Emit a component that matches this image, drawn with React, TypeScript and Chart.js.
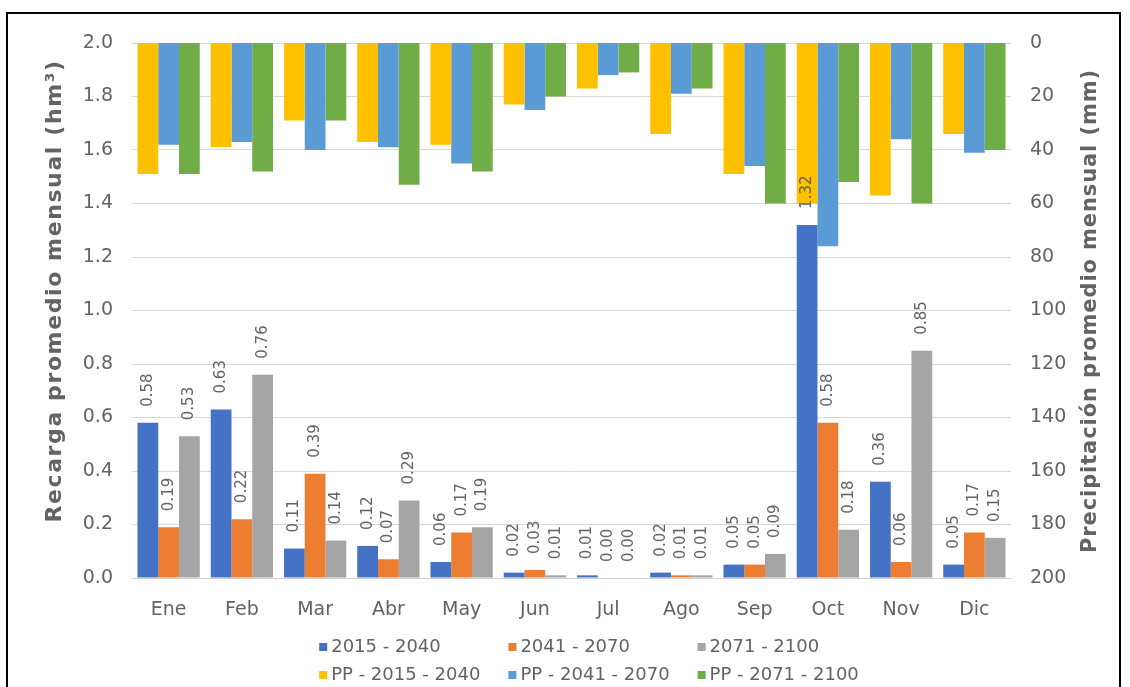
import React, { useEffect, useRef } from 'react';
import { Chart, registerables } from 'chart.js';

Chart.register(...registerables);

const W = 1130;
const H = 687;
const FONT = "'DejaVu Sans', 'Liberation Sans', sans-serif";
const TXT = '#636363';

const months = ['Ene', 'Feb', 'Mar', 'Abr', 'May', 'Jun', 'Jul', 'Ago', 'Sep', 'Oct', 'Nov', 'Dic'];

// Recarga promedio mensual (hm3)
const rec2015 = [0.58, 0.63, 0.11, 0.12, 0.06, 0.02, 0.01, 0.02, 0.05, 1.32, 0.36, 0.05];
const rec2041 = [0.19, 0.22, 0.39, 0.07, 0.17, 0.03, 0.0, 0.01, 0.05, 0.58, 0.06, 0.17];
const rec2071 = [0.53, 0.76, 0.14, 0.29, 0.19, 0.01, 0.0, 0.01, 0.09, 0.18, 0.85, 0.15];

// Precipitación promedio mensual (mm)
const pp2015 = [49, 39, 29, 37, 38, 23, 17, 34, 49, 60, 57, 34];
const pp2041 = [38, 37, 40, 39, 45, 25, 12, 19, 46, 76, 36, 41];
const pp2071 = [49, 48, 29, 53, 48, 20, 11, 17, 60, 52, 60, 40];

const recLabels = ['2015 - 2040', '2041 - 2070', '2071 - 2100'];
const ppLabels = ['PP - 2015 - 2040', 'PP - 2041 - 2070', 'PP - 2071 - 2100'];
const recColors = ['#4472C4', '#ED7D31', '#A5A5A5'];
const ppColors = ['#FFC000', '#5B9BD5', '#70AD47'];

const leftTitle = 'Recarga promedio mensual (hm³)';
const rightTitle = 'Precipitación promedio mensual (mm)';

const PLOT = { left: 132, right: 1011, top: 43, bottom: 578 };

const framePlugin = {
  id: 'frame',
  beforeDraw(chart: any) {
    const ctx = chart.ctx;
    ctx.save();
    ctx.fillStyle = '#ffffff';
    ctx.fillRect(0, 0, W, H);
    ctx.strokeStyle = '#000000';
    ctx.lineWidth = 2;
    ctx.strokeRect(7, 13, 1113, 700);
    ctx.restore();
  },
};

const labelPlugin = {
  id: 'vlabels',
  afterDatasetsDraw(chart: any) {
    const ctx = chart.ctx;
    ctx.save();
    ctx.font = `15px ${FONT}`;
    ctx.fillStyle = TXT;
    ctx.textAlign = 'left';
    ctx.textBaseline = 'middle';
    [0, 1, 2].forEach((di) => {
      const meta = chart.getDatasetMeta(di);
      const data = chart.data.datasets[di].data as number[];
      meta.data.forEach((el: any, i: number) => {
        ctx.save();
        ctx.translate(el.x, el.y - 16);
        ctx.rotate(-Math.PI / 2);
        ctx.fillText(Number(data[i]).toFixed(2), 0, 0);
        ctx.restore();
      });
    });
    ctx.restore();
  },
};

const drawRotated = (ctx: any, text: string, x: number, y: number, size: number, spacing: number) => {
  ctx.save();
  ctx.font = `bold ${size}px ${FONT}`;
  ctx.fillStyle = TXT;
  ctx.textAlign = 'center';
  ctx.textBaseline = 'middle';
  ctx.letterSpacing = `${spacing}px`;
  ctx.translate(x, y);
  ctx.rotate(-Math.PI / 2);
  ctx.fillText(text, 0, 0);
  ctx.restore();
};

const titlePlugin = {
  id: 'axisTitles',
  afterDraw(chart: any) {
    const ctx = chart.ctx;
    drawRotated(ctx, leftTitle, 55, 291, 22, 1.6);
    drawRotated(ctx, rightTitle, 1091, 311, 21, 0.9);
  },
};

const legendPlugin = {
  id: 'gridLegend',
  afterDraw(chart: any) {
    const ctx = chart.ctx;
    ctx.save();
    ctx.font = `18px ${FONT}`;
    ctx.textBaseline = 'middle';
    ctx.textAlign = 'left';
    const box = 8;
    const gap = 4;
    const rows = [
      { labels: recLabels, colors: recColors, y: 647 },
      { labels: ppLabels, colors: ppColors, y: 675 },
    ];
    let colW = 0;
    rows.forEach((r) => r.labels.forEach((l) => {
      colW = Math.max(colW, box + gap + ctx.measureText(l).width + 28);
    }));
    const totalW = colW * 3 - 28;
    const startX = 589 - totalW / 2;
    rows.forEach((r) => {
      r.labels.forEach((l, i) => {
        const x = startX + i * colW;
        ctx.fillStyle = r.colors[i];
        ctx.fillRect(x, r.y - box / 2, box, box);
        ctx.fillStyle = TXT;
        ctx.fillText(l, x + box + gap, r.y);
      });
    });
    ctx.restore();
  },
};

export default function App() {
  const ref = useRef<HTMLCanvasElement | null>(null);

  useEffect(() => {
    if (!ref.current) return;
    Chart.defaults.font.family = FONT;
    const mkRec = (i: number, data: number[]) => ({
      type: 'bar' as const,
      label: recLabels[i],
      data,
      backgroundColor: recColors[i],
      yAxisID: 'y',
      stack: 's' + i,
      order: 1,
    });
    const mkPP = (i: number, data: number[]) => ({
      type: 'bar' as const,
      label: ppLabels[i],
      data,
      backgroundColor: ppColors[i],
      yAxisID: 'y1',
      stack: 's' + i,
      order: 2,
    });
    const chart = new Chart(ref.current, {
      type: 'bar',
      data: {
        labels: months,
        datasets: [
          mkRec(0, rec2015),
          mkRec(1, rec2041),
          mkRec(2, rec2071),
          mkPP(0, pp2015),
          mkPP(1, pp2041),
          mkPP(2, pp2071),
        ],
      },
      options: {
        responsive: false,
        animation: false,
        devicePixelRatio: 1,
        layout: { padding: { top: PLOT.top, left: 0, right: 0, bottom: 0 } },
        datasets: { bar: { categoryPercentage: 0.85, barPercentage: 1.0 } },
        plugins: { legend: { display: false }, tooltip: { enabled: false } },
        scales: {
          x: {
            grid: { display: false, drawTicks: false },
            border: { color: '#D0D0D0' },
            ticks: { color: TXT, font: { size: 19 }, padding: 21 },
            afterFit: (s: any) => { s.height = H - PLOT.bottom; },
          },
          y: {
            position: 'left',
            min: 0,
            max: 2,
            ticks: {
              stepSize: 0.2,
              color: TXT,
              font: { size: 19 },
              padding: 19,
              callback: (v: any) => Number(v).toFixed(1),
            },
            grid: { color: '#D9D9D9', drawTicks: false },
            border: { display: false },
            afterFit: (s: any) => { s.width = PLOT.left; },
          },
          y1: {
            position: 'right',
            min: 0,
            max: 200,
            reverse: true,
            ticks: { stepSize: 20, color: TXT, font: { size: 19 }, padding: 19 },
            grid: { display: false, drawTicks: false },
            border: { display: false },
            afterFit: (s: any) => { s.width = W - PLOT.right; },
          },
        },
      } as any,
      plugins: [framePlugin, labelPlugin, titlePlugin, legendPlugin],
    });
    return () => chart.destroy();
  }, []);

  return (
    <canvas
      ref={ref}
      width={W}
      height={H}
      style={{ position: 'absolute', left: 0, top: 0, display: 'block' }}
    />
  );
}
